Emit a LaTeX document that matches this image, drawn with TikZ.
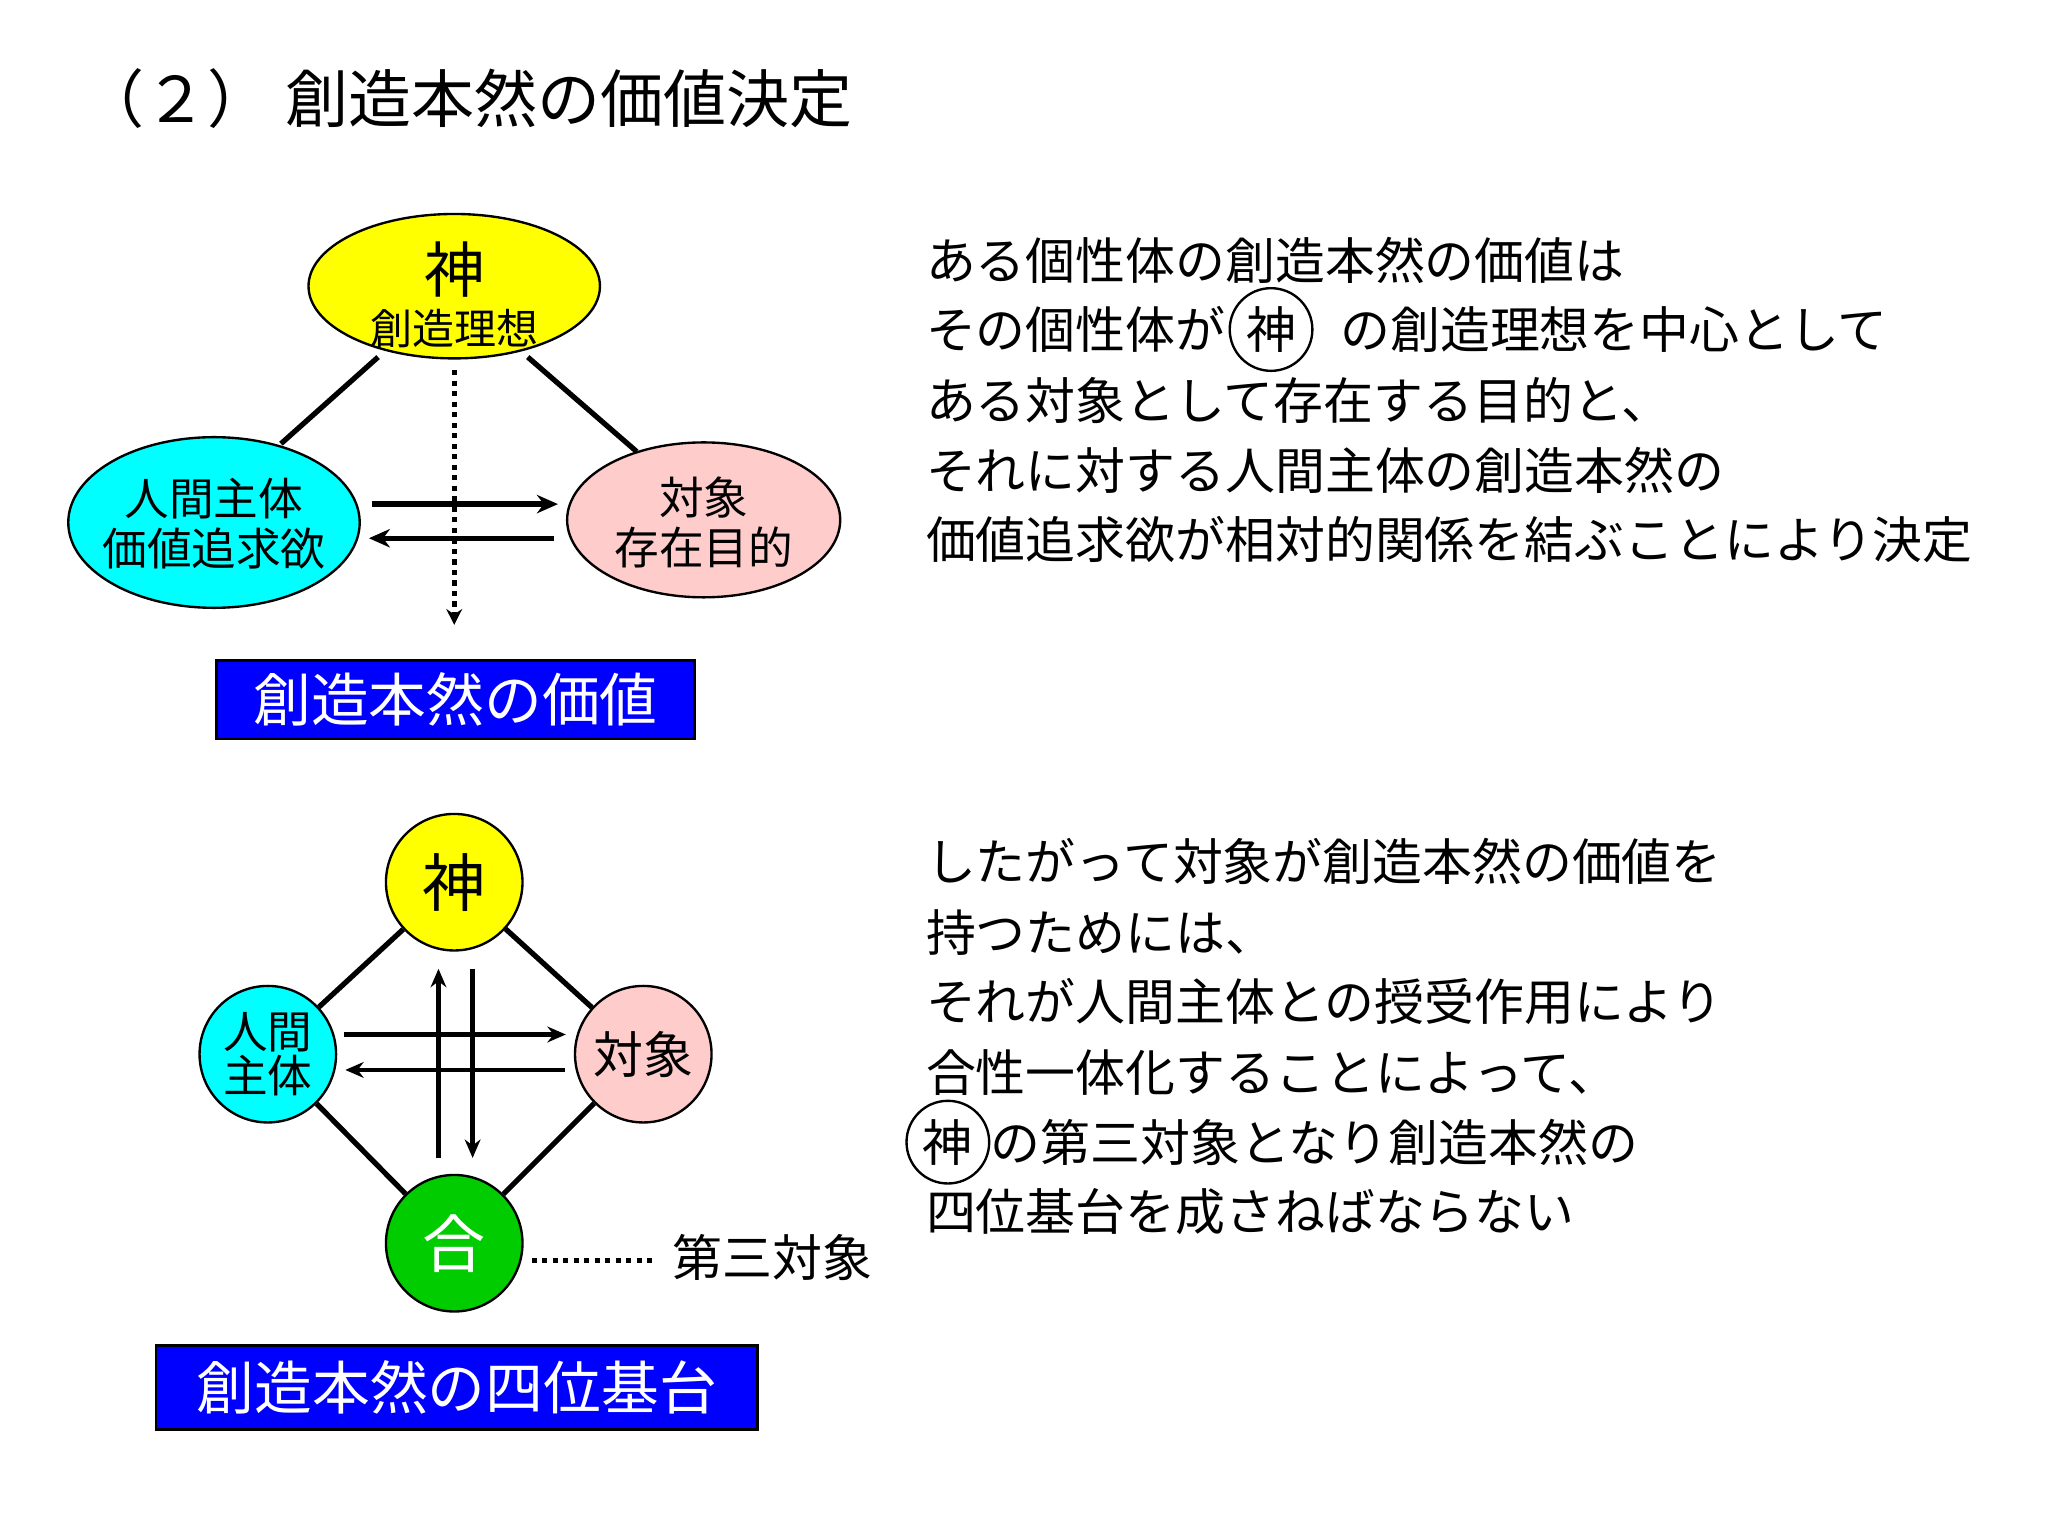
\documentclass[tikz,border=0pt]{standalone}
\usepackage{fontspec}
\setmainfont{Noto Sans CJK JP}
\usetikzlibrary{shapes.geometric,positioning,arrows.meta}
\begin{document}
\begin{tikzpicture}[x=0.5pt,y=-0.5pt,
  bodytxt/.style={font=\fontsize{19}{23}\selectfont,anchor=west,inner sep=0pt},
  thk/.style={line width=2pt},
  arr/.style={line width=2pt,-{Stealth[length=8pt,width=7pt]}},
  thinarr/.style={line width=1.8pt,-{Stealth[length=7pt,width=6pt]}},
  ell/.style={ellipse,draw,line width=0.9pt,inner sep=0pt},
  circ/.style={circle,draw,line width=0.9pt,minimum size=52pt,inner sep=0pt},
  bluebox/.style={draw,line width=0.9pt,fill={rgb,255:red,0;green,0;blue,255},text=white,font=\fontsize{22}{26}\selectfont},
  pinkc/.style={fill={rgb,255:red,255;green,204;blue,204}},
  cyanc/.style={fill={rgb,255:red,0;green,255;blue,255}},
  yelc/.style={fill={rgb,255:red,255;green,255;blue,0}},
  greenc/.style={fill={rgb,255:red,0;green,204;blue,0}}]
\useasboundingbox[fill=white] (0,0) rectangle (1560,1170);
\node[anchor=west,inner sep=0pt,font=\fontsize{24}{28}\selectfont] (title) at (62,75) {（２）\ 創造本然の価値決定};
% upper diagram
\node[ell,yelc,minimum width=111pt,minimum height=55pt] (g1) at (346,218) {};
\node[font=\fontsize{23}{26}\selectfont] (g1a) at (346,205) {神};
\node[font=\fontsize{16}{19}\selectfont] (g1b) at (346,250) {創造理想};
\node[ell,cyanc,minimum width=111pt,minimum height=65pt] (h1) at (163,398) {};
\node[font=\fontsize{17}{20}\selectfont,align=center] (h1t) at (163,399) {人間主体\\[-1pt]価値追求欲};
\node[ell,pinkc,minimum width=104pt,minimum height=59pt] (o1) at (536,396) {};
\node[font=\fontsize{17}{20}\selectfont,align=center] (o1t) at (536,398) {対象\\[-1pt]存在目的};
\coordinate (a1) at (288,272); \coordinate (a2) at (214,338);
\coordinate (b1) at (402,272); \coordinate (b2) at (485,344);
\draw[thk] (a1)--(a2); \draw[thk] (b1)--(b2);
\coordinate (r1) at (283,384); \coordinate (r2) at (425,384);
\coordinate (s1) at (422,410); \coordinate (s2) at (281,410);
\draw[arr] (r1)--(r2); \draw[arr] (s1)--(s2);
\coordinate (d1) at (346,282); \coordinate (d2) at (346,476);
\draw[line width=2pt,dotted,-{Stealth[length=6pt,width=6pt]}] (d1)--(d2);
\node[bluebox,minimum width=182pt,minimum height=30pt] (v1) at (347,533) {創造本然の価値};
% lower diagram
\node[circ,yelc,font=\fontsize{24}{28}\selectfont] (g2) at (346,672) {神};
\node[circ,cyanc,font=\fontsize{17}{19}\selectfont,align=center] (h2) at (204,803) {人間\\[-2pt]主体};
\node[circ,pinkc,font=\fontsize{19}{22}\selectfont] (o2) at (490,803) {対象};
\node[circ,greenc,text=white,font=\fontsize{24}{28}\selectfont] (u2) at (346,947) {合};
\draw[thk] (g2)--(h2); \draw[thk] (g2)--(o2); \draw[thk] (h2)--(u2); \draw[thk] (o2)--(u2);
\coordinate (p1) at (262,788); \coordinate (p2) at (431,788);
\coordinate (q1) at (430,815); \coordinate (q2) at (263,815);
\coordinate (m1) at (334,882); \coordinate (m2) at (334,738);
\coordinate (n1) at (360,738); \coordinate (n2) at (360,882);
\draw[thinarr] (p1)--(p2); \draw[thinarr] (q1)--(q2);
\draw[thinarr] (m1)--(m2); \draw[thinarr] (n1)--(n2);
\node[anchor=west,inner sep=0pt,font=\fontsize{19}{22}\selectfont] (third) at (512,958) {第三対象};
\coordinate (e1) at (405,960); \coordinate (e2) at (498,960);
\draw[line width=2pt,dotted] (e1) -- (e2);
\node[bluebox,minimum width=229pt,minimum height=32pt] (v2) at (348,1057) {創造本然の四位基台};
% right text
\node[bodytxt] (t1) at (705,198) {ある個性体の創造本然の価値は};
\node[bodytxt] (t2a) at (705,251) {その個性体が};
\node[circle,draw,line width=0.9pt,inner sep=2pt,right=1pt of t2a,font=\fontsize{19}{23}\selectfont] (t2c) {神};
\node[bodytxt,right=10pt of t2c] (t2b) {の創造理想を中心として};
\node[bodytxt] (t3) at (705,305) {ある対象として存在する目的と、};
\node[bodytxt] (t4) at (705,358) {それに対する人間主体の創造本然の};
\node[bodytxt] (t5) at (705,411) {価値追求欲が相対的関係を結ぶことにより決定};
\node[bodytxt] (u1) at (705,656) {したがって対象が創造本然の価値を};
\node[bodytxt] (u2t) at (705,710) {持つためには、};
\node[bodytxt] (u3) at (705,763) {それが人間主体との授受作用により};
\node[bodytxt] (u4) at (705,817) {合性一体化することによって、};
\node[circle,draw,line width=0.9pt,inner sep=2pt,font=\fontsize{19}{23}\selectfont] (u5c) at (722,870) {神};
\node[bodytxt,right=0pt of u5c] (u5) {の第三対象となり創造本然の};
\node[bodytxt] (u6) at (705,923) {四位基台を成さねばならない};
\end{tikzpicture}
\end{document}
